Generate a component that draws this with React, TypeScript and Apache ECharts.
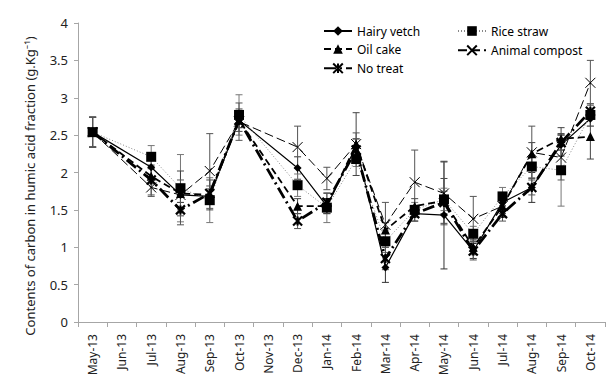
import React, { useEffect, useRef } from "react";
import * as echarts from "echarts";

const categories = ["May-13","Jun-13","Jul-13","Aug-13","Sep-13","Oct-13","Nov-13","Dec-13","Jan-14","Feb-14","Mar-14","Apr-14","May-14","Jun-14","Jul-14","Aug-14","Sep-14","Oct-14"];

const hairyVetch = [2.54, null, 2.07, 1.70, 1.68, 2.70, null, 2.06, 1.55, 2.35, 0.73, 1.45, 1.43, 0.95, 1.60, 1.80, 2.37, 2.72];
const hairyVetchErr = [0.2, null, 0.15, 0.1, 0.1, 0.1, null, 0.15, 0.1, 0.1, 0.2, 0.1, 0.72, 0.1, 0.1, 0.2, 0.15, 0.1];
const riceStraw = [2.54, null, 2.21, 1.79, 1.63, 2.77, null, 1.83, 1.53, 2.18, 1.08, 1.50, 1.64, 1.18, 1.68, 2.08, 2.03, 2.77];
const riceStrawErr = [0.2, null, 0.15, 0.45, 0.3, 0.27, null, 0.15, 0.2, 0.1, 0.15, 0.1, 0.15, 0.1, 0.12, 0.15, 0.48, 0.15];
const oilCake = [2.54, null, 1.95, 1.72, 1.70, 2.70, null, 1.55, 1.55, 2.38, 1.23, 1.55, 1.62, 1.00, 1.55, 2.25, 2.45, 2.48];
const oilCakeErr = [0.2, null, 0.1, 0.3, 0.2, 0.15, null, 0.1, 0.1, 0.42, 0.1, 0.1, 0.3, 0.1, 0.1, 0.15, 0.15, 0.3];
const animalCompost = [2.54, null, 1.80, 1.70, 2.02, 2.68, null, 2.34, 1.92, 2.38, 1.30, 1.87, 1.72, 1.38, 1.55, 2.27, 2.20, 3.20];
const animalCompostErr = [0.2, null, 0.12, 0.2, 0.5, 0.25, null, 0.28, 0.15, 0.15, 0.3, 0.43, 0.42, 0.3, 0.15, 0.35, 0.3, 0.3];
const noTreat = [2.54, null, 1.90, 1.50, 1.72, 2.70, null, 1.35, 1.60, 2.30, 0.85, 1.45, 1.60, 0.95, 1.45, 1.80, 2.40, 2.82];
const noTreatErr = [0.2, null, 0.2, 0.2, 0.1, 0.1, null, 0.1, 0.12, 0.15, 0.15, 0.1, 0.15, 0.12, 0.1, 0.1, 0.1, 0.1];

const FONT = "Noto Sans";

function errData(vals: (number | null)[], errs: (number | null)[]) {
  const out: number[][] = [];
  vals.forEach((v, i) => {
    const e = errs[i];
    if (v != null && e != null) out.push([i, v - e, v + e]);
  });
  return out;
}

function errSeries(name: string, vals: (number | null)[], errs: (number | null)[], color: string) {
  return {
    type: "custom",
    name: name + " err",
    z: 1,
    silent: true,
    data: errData(vals, errs),
    encode: { x: 0, y: [1, 2] },
    renderItem: (params: any, api: any) => {
      const x = api.value(0);
      const top = api.coord([x, api.value(2)]);
      const bot = api.coord([x, api.value(1)]);
      const w = 3.5;
      const st = { stroke: color, lineWidth: 1 };
      return {
        type: "group",
        children: [
          { type: "line", shape: { x1: top[0], y1: top[1], x2: bot[0], y2: bot[1] }, style: st },
          { type: "line", shape: { x1: top[0] - w, y1: top[1], x2: top[0] + w, y2: top[1] }, style: st },
          { type: "line", shape: { x1: bot[0] - w, y1: bot[1], x2: bot[0] + w, y2: bot[1] }, style: st },
        ],
      };
    },
  };
}

export default function App() {
  const ref = useRef<HTMLDivElement>(null);
  useEffect(() => {
    if (!ref.current) return;
    const chart = echarts.init(ref.current, undefined, { renderer: "svg" });
    const lineBase = { type: "line", connectNulls: true, z: 3 };
    const legendText = { fontFamily: FONT, fontSize: 12, color: "#000" };
    chart.setOption({
      animation: false,
      backgroundColor: "#fff",
      textStyle: { fontFamily: FONT },
      grid: { left: 78, right: 1, top: 23, bottom: 61, containLabel: false },
      legend: [
        {
          data: ["Hairy vetch", "Oil cake", "No treat"],
          orient: "vertical",
          left: 318,
          top: 20,
          itemWidth: 28,
          itemHeight: 12,
          itemGap: 6,
          textStyle: legendText,
          selectedMode: false,
        },
        {
          data: ["Rice straw", "Animal compost"],
          orient: "vertical",
          left: 452,
          top: 20,
          itemWidth: 28,
          itemHeight: 12,
          itemGap: 6,
          textStyle: legendText,
          selectedMode: false,
        },
      ],
      xAxis: {
        type: "category",
        data: categories,
        boundaryGap: true,
        axisLine: { lineStyle: { color: "#a6a6a6" } },
        axisTick: { show: true, length: 5, alignWithLabel: false, lineStyle: { color: "#a6a6a6" } },
        axisLabel: { rotate: 90, fontSize: 12, color: "#222", fontFamily: FONT, margin: 12, interval: 0 },
        splitLine: { show: false },
      },
      yAxis: {
        type: "value",
        min: 0,
        max: 4,
        interval: 0.5,
        axisLine: { show: true, lineStyle: { color: "#a6a6a6" } },
        axisTick: { show: true, length: 4, lineStyle: { color: "#a6a6a6" } },
        axisLabel: { fontSize: 13, color: "#222", fontFamily: FONT, margin: 10 },
        splitLine: { show: false },
      },
      graphic: [
        {
          type: "text",
          x: 30,
          y: 186,
          rotation: Math.PI / 2,
          style: {
            text: "Contents of carbon in humic acid fraction (g.Kg⁻¹)",
            fontFamily: FONT,
            fontSize: 13,
            fill: "#222",
            align: "center",
            verticalAlign: "middle",
          },
        },
      ],
      series: [
        errSeries("Hairy vetch", hairyVetch, hairyVetchErr, "#333"),
        errSeries("Rice straw", riceStraw, riceStrawErr, "#777"),
        errSeries("Oil cake", oilCake, oilCakeErr, "#444"),
        errSeries("Animal compost", animalCompost, animalCompostErr, "#555"),
        errSeries("No treat", noTreat, noTreatErr, "#555"),
        {
          ...lineBase,
          name: "Hairy vetch",
          data: hairyVetch,
          symbol: "diamond",
          symbolSize: 8,
          itemStyle: { color: "#000" },
          lineStyle: { color: "#000", width: 1.2, type: "solid" },
        },
        {
          ...lineBase,
          name: "Rice straw",
          data: riceStraw,
          symbol: "rect",
          symbolSize: 10,
          itemStyle: { color: "#000" },
          lineStyle: { color: "#888", width: 1, type: [1, 2] },
        },
        {
          ...lineBase,
          name: "Oil cake",
          data: oilCake,
          symbol: "triangle",
          symbolSize: 9,
          itemStyle: { color: "#000" },
          lineStyle: { color: "#000", width: 1.8, type: [7, 4] },
        },
        {
          ...lineBase,
          name: "Animal compost",
          data: animalCompost,
          symbol: "path://M0,0L10,10M10,0L0,10",
          symbolSize: 10,
          itemStyle: { color: "none", borderColor: "#000", borderWidth: 1 },
          lineStyle: { color: "#000", width: 1, type: [9, 4] },
        },
        {
          ...lineBase,
          name: "No treat",
          data: noTreat,
          symbol: "path://M0,0L10,10M10,0L0,10M5,0L5,10",
          symbolSize: 9,
          itemStyle: { color: "none", borderColor: "#000", borderWidth: 2.2 },
          lineStyle: { color: "#000", width: 2.8, type: [12, 4, 2, 4] },
        },
      ],
    });
    return () => chart.dispose();
  }, []);
  return (
    <div
      ref={ref}
      style={{ position: "fixed", left: 0, top: 0, width: 606, height: 383, background: "#fff" }}
    />
  );
}
